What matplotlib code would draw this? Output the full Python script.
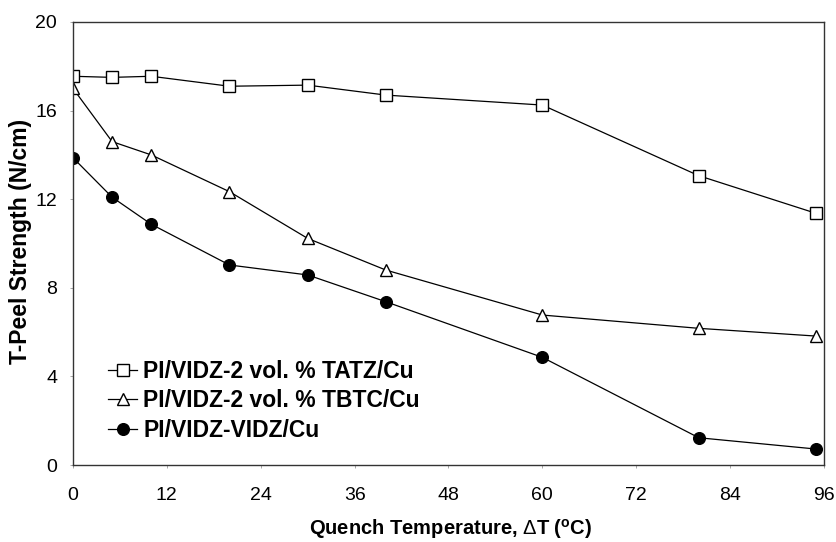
import matplotlib
matplotlib.use("Agg")
import matplotlib.pyplot as plt

plt.rcParams['font.family'] = ['Liberation Sans', 'DejaVu Sans']
plt.rcParams['mathtext.fontset'] = 'custom'
plt.rcParams['mathtext.rm'] = 'Liberation Sans'
plt.rcParams['mathtext.bf'] = 'Liberation Sans:bold'

x_tatz = [0, 5, 10, 20, 30, 40, 60, 80, 95]
y_tatz = [17.55, 17.5, 17.55, 17.1, 17.15, 16.7, 16.25, 13.06, 11.36]
x_tbtc = [0, 5, 10, 20, 30, 40, 60, 80, 95]
y_tbtc = [17.0, 14.6, 14.0, 12.34, 10.23, 8.8, 6.77, 6.17, 5.82]
x_vidz = [0, 5, 10, 20, 30, 40, 60, 80, 95]
y_vidz = [13.87, 12.09, 10.87, 9.03, 8.58, 7.37, 4.86, 1.23, 0.72]
labels = ['PI/VIDZ-2 vol. % TATZ/Cu', 'PI/VIDZ-2 vol. % TBTC/Cu', 'PI/VIDZ-VIDZ/Cu']
xticks = [0, 12, 24, 36, 48, 60, 72, 84, 96]
yticks = [0, 4, 8, 12, 16, 20]

fig = plt.figure(figsize=(8.37, 5.42), dpi=100)
ax = fig.add_axes([73/837, 1-465/542, (824-73)/837, (465-22)/542])

common = dict(color='black', linewidth=0.9, markeredgewidth=1.0, markeredgecolor='black')
ax.plot(x_tatz, y_tatz, marker='s', markersize=8.5, markerfacecolor='white', label=labels[0], **common)
ax.plot(x_tbtc, y_tbtc, marker='^', markersize=8.8, markerfacecolor='white', label=labels[1], **common)
ax.plot(x_vidz, y_vidz, marker='o', markersize=8.4, markerfacecolor='black', label=labels[2], **common)

ax.set_xlim(0, 96)
ax.set_ylim(0, 20)
ax.set_xticks(xticks)
ax.set_yticks(yticks)
ax.tick_params(axis='both', direction='out', length=2, width=0.6, color='#999999', labelsize=14)
ax.tick_params(axis='y', pad=9.5)
ax.tick_params(axis='x', pad=13.5)
for s in ax.spines.values():
    s.set_linewidth(1.0)
    s.set_color('#333333')

ax.set_xlabel(r'Quench Temperature, $\Delta$T ($^{\mathbf{o}}$C)', fontsize=14.5, fontweight='bold')
ax.xaxis.set_label_coords(0.503, -0.118)
ax.set_ylabel('T-Peel Strength (N/cm)', fontsize=16.5, fontweight='bold')
ax.yaxis.set_label_coords(-0.054, 0.505)

leg = ax.legend(loc='upper left', bbox_to_anchor=(0.0466, 0.238), frameon=False,
                prop={'weight': 'bold', 'size': 16.5}, handlelength=1.27, handletextpad=0.26,
                labelspacing=0.3, borderaxespad=0, borderpad=0)

fig.savefig('out.png', dpi=100)
